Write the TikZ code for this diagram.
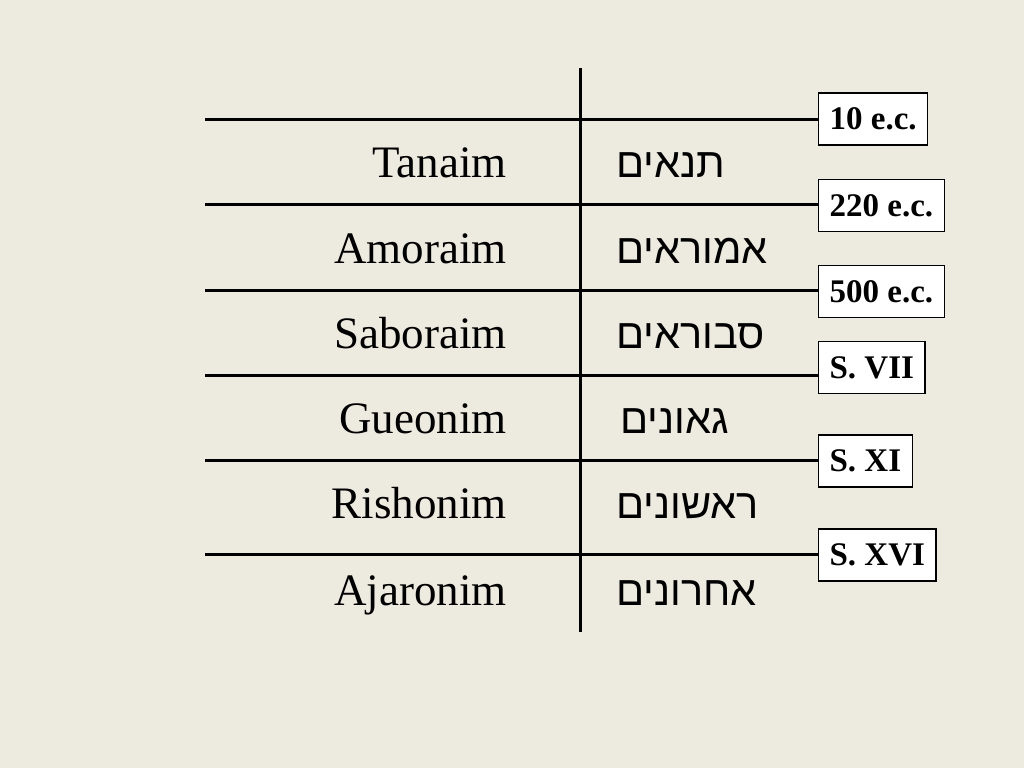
\documentclass[tikz,border=0pt]{standalone}
\usepackage{fontspec}
\setmainfont{Liberation Serif}
\newfontfamily\hebfont[Script=Hebrew]{Liberation Sans}
\TeXXeTstate=1
\definecolor{bg}{RGB}{237,234,224}
\begin{document}
\begin{tikzpicture}[x=1pt,y=-1pt,
  rule/.style={line width=3pt},
  datebox/.style={draw, line width=1.2pt, fill=white, inner xsep=11pt, inner ysep=0pt,
    minimum height=52pt, anchor=west, font=\fontsize{33}{36}\selectfont\bfseries},
  eng/.style={anchor=base east, inner sep=0pt, font=\fontsize{45}{50}\selectfont},
  heb/.style={anchor=base west, inner sep=0pt, font=\hebfont\fontsize{41.5}{48}\selectfont}]
\fill[bg] (0,0) rectangle (1024,768);
\useasboundingbox (0,0) rectangle (1024,768);

% vertical rule
\coordinate (vtop) at (580,68);
\coordinate (vbot) at (580,632);
\draw[rule] (vtop) -- (vbot);

% date boxes
\node[datebox] (b1) at (818,119) {10 e.c.};
\node[datebox] (b2) at (818,205.5) {220 e.c.};
\node[datebox] (b3) at (818,291.5) {500 e.c.};
\node[datebox] (b4) at (818,367.5) {S. VII};
\node[datebox] (b5) at (818,461) {S. XI};
\node[datebox] (b6) at (818,555) {S. XVI};

% horizontal rules
\coordinate (l1) at (205,119);
\coordinate (l2) at (205,204.5);
\coordinate (l3) at (205,290);
\coordinate (l4) at (205,375);
\coordinate (l5) at (205,460.5);
\coordinate (l6) at (205,554);
\foreach \i in {1,...,6} {
  \draw[rule] (l\i) -- (l\i -| b\i.west);
}

% English names
\node[eng] (e1) at (507,177) {Tanaim};
\node[eng] (e2) at (507,263) {Amoraim};
\node[eng] (e3) at (507,348) {Saboraim};
\node[eng] (e4) at (507,433) {Gueonim};
\node[eng] (e5) at (507,518) {Rishonim};
\node[eng] (e6) at (507,605) {Ajaronim};

% Hebrew names
\node[heb] (h1) at (616,177) {\beginR תנאים\endR};
\node[heb] (h2) at (616,263) {\beginR אמוראים\endR};
\node[heb] (h3) at (616,348) {\beginR סבוראים\endR};
\node[heb] (h4) at (620,433) {\beginR גאונים\endR};
\node[heb] (h5) at (616,518) {\beginR ראשונים\endR};
\node[heb] (h6) at (616,605) {\beginR אחרונים\endR};
\end{tikzpicture}
\end{document}
